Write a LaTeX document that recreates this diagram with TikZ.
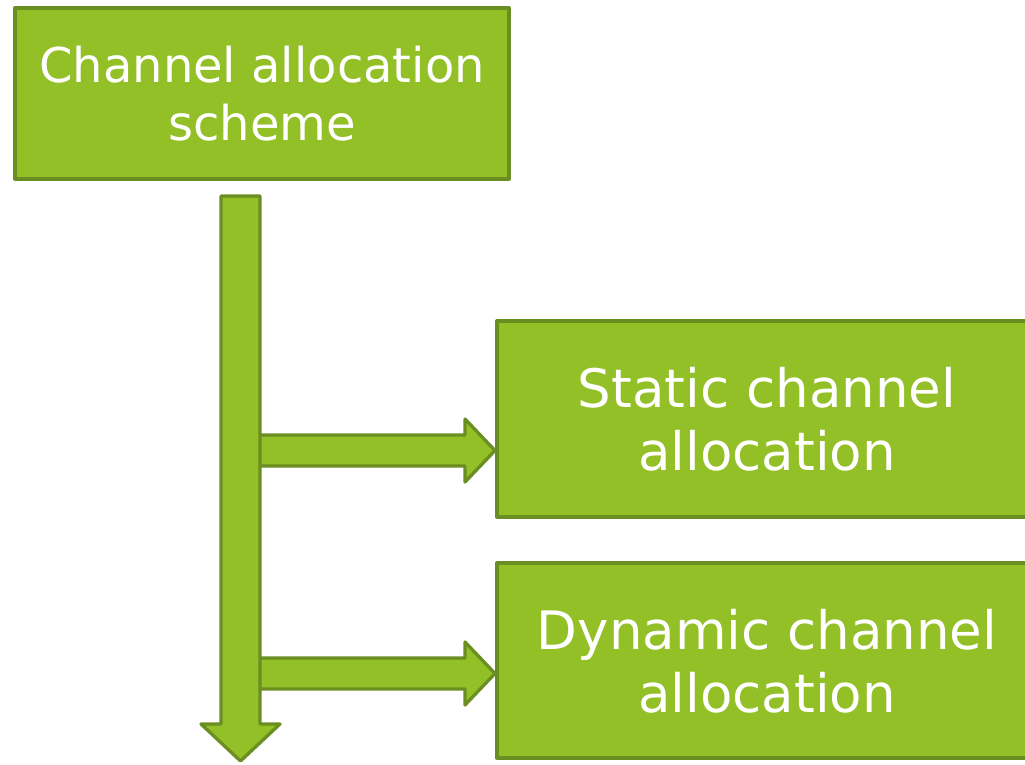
\documentclass[tikz,border=0pt]{standalone}
\usepackage{fontspec}
\setmainfont{DejaVu Sans}
\definecolor{fillg}{RGB}{146,192,38}
\definecolor{lineg}{RGB}{107,142,35}
\begin{document}
\begin{tikzpicture}[x=1pt,y=-1pt,
  box/.style={draw=lineg, fill=fillg, line width=3.3pt, text=white, align=center, inner sep=0pt, outer sep=0pt, line join=round, text depth=-5pt},
  blockarrow/.style={draw=lineg, fill=fillg, line width=3.3pt, line join=round}]
\useasboundingbox (0,0) rectangle (1025,764);
\clip (0,0) rectangle (1025,764);
\node[box, minimum width=494pt, minimum height=171pt, font=\fontsize{48}{58}\selectfont] (top) at (262,93.5) {Channel allocation\\scheme};
\node[box, minimum width=540pt, minimum height=196pt, font=\fontsize{53}{63}\selectfont] (static) at (767,419) {Static channel\\allocation};
\node[box, minimum width=540pt, minimum height=195pt, font=\fontsize{53}{63}\selectfont] (dynamic) at (767,660.5) {Dynamic channel\\allocation};
% branch arrows
\coordinate (b1) at (258,450.5);
\coordinate (b2) at (258,673.5);
\coordinate (s1) at (static.west |- b1);
\coordinate (s2) at (dynamic.west |- b2);
\foreach \b/\s in {b1/s1, b2/s2}{
  \draw[blockarrow] ([yshift=-15.5pt]\b) -- ([xshift=-32pt,yshift=-15.5pt]\s) -- ([xshift=-32pt,yshift=-31.5pt]\s) -- ([xshift=-2pt]\s)
    -- ([xshift=-32pt,yshift=31.5pt]\s) -- ([xshift=-32pt,yshift=15.5pt]\s) -- ([yshift=15.5pt]\b);
}
% main down arrow
\coordinate (vt) at (240.5,196);
\coordinate (vtip) at (240.5,761);
\draw[blockarrow] ([xshift=-19.5pt]vt) -- ([xshift=19.5pt]vt) -- ([xshift=19.5pt,yshift=37pt]vtip) -- ([xshift=39.5pt,yshift=37pt]vtip)
  -- (vtip) -- ([xshift=-39.5pt,yshift=37pt]vtip) -- ([xshift=-19.5pt,yshift=37pt]vtip) -- cycle;
\end{tikzpicture}
\end{document}
